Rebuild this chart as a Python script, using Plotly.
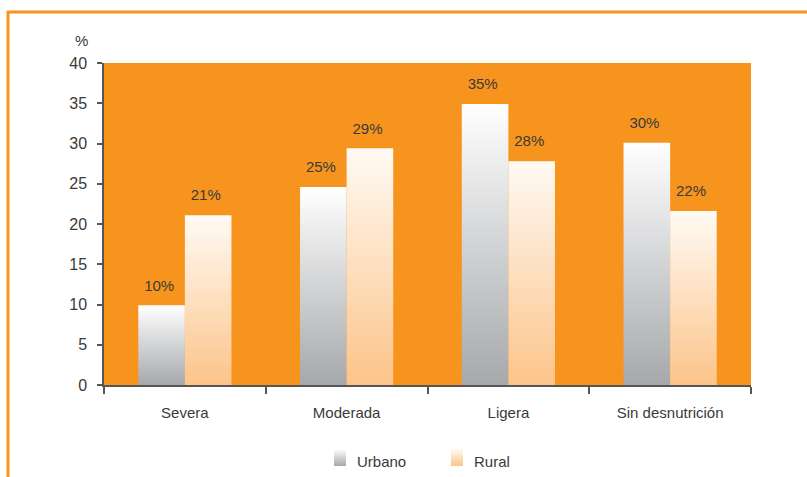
import base64
import plotly.graph_objects as go

# Chart data
categories = ["Severa", "Moderada", "Ligera", "Sin desnutrición"]
urbano = [9.9, 24.6, 34.9, 30.1]
rural = [21.1, 29.4, 27.8, 21.6]
y_ticks = [0, 5, 10, 15, 20, 25, 30, 35, 40]

ORANGE = "#f7941e"
AXIS = "#555555"
TEXT = "#3a3a3a"
FONT = "Liberation Sans, Arial, sans-serif"
FS = 15
BAR_W = 0.288

# name, values, gradient (bottom -> top), offset of the bar relative to the category centre
series = [
    ("Urbano", urbano, ("#a6a8ab", "#ffffff"), -1),
    ("Rural", rural, ("#fcc48a", "#fffaf4"), 0),
]

W, H = 807, 477
ML, MR, MT, MB = 104, 56, 63, 92
PW, PH = W - ML - MR, H - MT - MB


def px_x(x):
    return (x - ML) / PW


def px_y(y):
    return (H - MB - y) / PH


fig = go.Figure()

for name, vals, (c_bot, c_top), side in series:
    # each bar as a filled rectangle with a vertical gradient
    for i, v in enumerate(vals):
        x0 = i + side * BAR_W
        x1 = x0 + BAR_W
        fig.add_trace(go.Scatter(
            x=[x0, x1, x1, x0, x0], y=[0, 0, v, v, 0],
            mode="lines", fill="toself", line=dict(width=0, color=c_bot),
            fillgradient=dict(type="vertical", colorscale=[[0, c_bot], [1, c_top]]),
            showlegend=False, hoverinfo="skip", name=name,
        ))
    # value labels above the bars (transparent markers keep the text clear of the bar top)
    fig.add_trace(go.Scatter(
        x=[i + side * BAR_W + BAR_W / 2 - 0.015 for i in range(len(vals))], y=vals,
        mode="markers+text", texttemplate="%{y:.0f}%", textposition="top center",
        marker=dict(size=16, opacity=0),
        textfont=dict(size=FS, color=TEXT, family=FONT),
        showlegend=False, hoverinfo="skip",
    ))


def gradient_uri(c_bot, c_top):
    svg = (
        '<svg xmlns="http://www.w3.org/2000/svg" width="12" height="17">'
        '<defs><linearGradient id="g" x1="0" y1="0" x2="0" y2="1">'
        f'<stop offset="0" stop-color="{c_top}"/><stop offset="1" stop-color="{c_bot}"/>'
        '</linearGradient></defs><rect width="12" height="17" fill="url(#g)"/></svg>'
    )
    return "data:image/svg+xml;base64," + base64.b64encode(svg.encode()).decode()


# legend: gradient swatches with labels underneath the plot
legend_pos = [(334, 355), (451, 472)]
images, annotations = [], []
for (name, _, (c_bot, c_top), _), (sx, tx) in zip(series, legend_pos):
    images.append(dict(
        source=gradient_uri(c_bot, c_top), xref="paper", yref="paper",
        x=px_x(sx), y=px_y(449), sizex=12 / PW, sizey=17 / PH,
        xanchor="left", yanchor="top", sizing="stretch", layer="above",
    ))
    annotations.append(dict(
        text=name, xref="paper", yref="paper", x=px_x(tx), y=px_y(461),
        xanchor="left", yanchor="middle", showarrow=False,
        font=dict(size=FS, color=TEXT, family=FONT),
    ))

annotations.append(dict(
    text="%", xref="paper", yref="paper", x=px_x(81), y=px_y(41),
    xanchor="center", yanchor="middle", showarrow=False,
    font=dict(size=FS, color=TEXT, family=FONT),
))

# orange frame lines along the top and left of the page
shapes = [
    dict(type="line", xref="paper", yref="paper", x0=px_x(7), x1=px_x(812),
         y0=px_y(12), y1=px_y(12), line=dict(color=ORANGE, width=3)),
    dict(type="line", xref="paper", yref="paper", x0=px_x(8), x1=px_x(8),
         y0=px_y(11), y1=px_y(482), line=dict(color=ORANGE, width=3)),
]

fig.update_layout(
    width=W, height=H,
    margin=dict(l=ML, r=MR, t=MT, b=MB),
    paper_bgcolor="white", plot_bgcolor=ORANGE,
    font=dict(family=FONT, size=FS, color=TEXT),
    showlegend=False,
    xaxis=dict(
        range=[-0.5, len(categories) - 0.5], tickvals=list(range(len(categories))),
        ticktext=categories, ticks="", showgrid=False, zeroline=False,
        showline=True, linecolor=AXIS, linewidth=1.5,
        tickfont=dict(size=FS, color=TEXT), ticklabelstandoff=13,
        minor=dict(tickvals=[i - 0.5 for i in range(len(categories) + 1)],
                   ticks="outside", ticklen=7, tickcolor=AXIS, tickwidth=1.5, showgrid=False),
    ),
    yaxis=dict(
        range=[0, 40], tickvals=y_ticks, ticks="outside", ticklen=5,
        tickcolor=AXIS, tickwidth=1.5, showgrid=False, zeroline=False,
        showline=True, linecolor=AXIS, linewidth=1.5,
        tickfont=dict(size=16, color=TEXT), ticklabelstandoff=7,
    ),
    images=images, annotations=annotations, shapes=shapes,
)

fig.write_html("out.html")
